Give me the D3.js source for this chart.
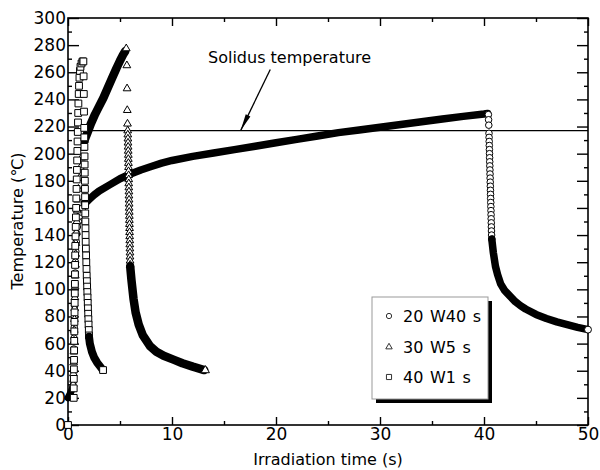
<!DOCTYPE html>
<html>
<head>
<meta charset="utf-8">
<script src="https://cdn.jsdelivr.net/npm/d3@7"></script>
<style>
  body { margin: 0; background: #fff; }
  text { font-family: "DejaVu Sans", sans-serif; fill: #000; }
</style>
</head>
<body>
<div id="chart"></div>
<script>
// global constants
const W = 600;
const H = 470;
const MARGIN = { top: 18, right: 12, bottom: 45, left: 68 };
const WIDTH = W - MARGIN.left - MARGIN.right;
const HEIGHT = H - MARGIN.top - MARGIN.bottom;

// axis ticks
const X_MAJOR = [0, 10, 20, 30, 40, 50];
const X_MINOR = [5, 15, 25, 35, 45];
const Y_MAJOR = [0, 20, 40, 60, 80, 100, 120, 140, 160, 180, 200, 220, 240, 260, 280, 300];
const Y_MINOR = [10, 30, 50, 70, 90, 110, 130, 150, 170, 190, 210, 230, 250, 270, 290];

const SOLIDUS = 217;
const LEGEND = ["20 W40 s", "30 W5 s", "40 W1 s"];

// 20 W 40 s (circles): [time s, temperature C]
const circleStart = [[0, 20], [0.2, 23], [0.42, 27]];
const circleRise = [
  [0.5, 32], [0.52, 40], [0.54, 48], [0.56, 56], [0.58, 64], [0.6, 72], [0.62, 80],
  [0.64, 88], [0.66, 96], [0.68, 104], [0.7, 112], [0.72, 120], [0.75, 128], [0.8, 135],
  [0.85, 141], [0.9, 146], [1.0, 150], [1.1, 154], [1.25, 157], [1.4, 160], [1.6, 163]
];
const circleHeat = [
  [1.6, 163], [2, 166], [2.5, 169.5], [3, 172.5], [4, 177], [5, 181.5], [6, 185], [7, 188],
  [8, 190.5], [9, 193], [10, 195], [12, 198], [14, 200.5], [16, 203], [18, 205.5], [20, 208],
  [22, 210.5], [24, 213], [26, 215.5], [28, 217.5], [30, 219.5], [32, 221.5], [34, 223.5],
  [36, 225.5], [38, 227.5], [40, 229.2], [40.35, 229.6]
];
const circleDrop = [
  [40.42, 228.8], [40.44, 225], [40.46, 221], [40.48, 215], [40.49, 212], [40.5, 209],
  [40.51, 206], [40.52, 203], [40.53, 200], [40.54, 197], [40.55, 194], [40.56, 191],
  [40.57, 188], [40.58, 185], [40.59, 182], [40.6, 179], [40.61, 176], [40.62, 173],
  [40.63, 170], [40.64, 167], [40.65, 164], [40.66, 161], [40.67, 158], [40.68, 155],
  [40.69, 152], [40.7, 149], [40.71, 146], [40.72, 143], [40.73, 140], [40.75, 137]
];
const circleCool = [
  [40.75, 137], [40.9, 127], [41.1, 117], [41.3, 111], [41.6, 104], [42, 99], [42.5, 95],
  [43, 91], [43.5, 88], [44, 85.5], [45, 81.5], [46, 78.5], [47, 76], [48, 74], [49, 72],
  [49.9, 70.5]
];
const circleEnd = [[50, 70.3]];

// 30 W 5 s (triangles)
const triRise = [
  [0.5, 30], [0.52, 38], [0.54, 46], [0.56, 54], [0.58, 62], [0.6, 70], [0.62, 78],
  [0.64, 86], [0.66, 94], [0.68, 102], [0.7, 110], [0.72, 118], [0.74, 126], [0.76, 134],
  [0.8, 142], [0.85, 150], [0.9, 158], [0.95, 166], [1.0, 174], [1.1, 182], [1.2, 190],
  [1.3, 197], [1.45, 204], [1.6, 210]
];
const triHeat = [
  [1.6, 210], [1.9, 216], [2.2, 222], [2.6, 229], [3, 235], [3.4, 241], [3.8, 248],
  [4.2, 255], [4.66, 263], [5, 268.5], [5.3, 273], [5.5, 275.5]
];
const triDrop = [
  [5.6, 277.5], [5.66, 265], [5.68, 248], [5.7, 232], [5.72, 222], [5.74, 217], [5.75, 214],
  [5.76, 211], [5.77, 208], [5.78, 205], [5.79, 202], [5.8, 199], [5.8, 196], [5.81, 193],
  [5.82, 190], [5.82, 187], [5.83, 184], [5.84, 181], [5.84, 178], [5.85, 175], [5.86, 172],
  [5.86, 169], [5.87, 166], [5.88, 163], [5.88, 160], [5.89, 157], [5.9, 154], [5.9, 151],
  [5.91, 148], [5.92, 145], [5.92, 142], [5.93, 139], [5.94, 136], [5.94, 133], [5.95, 130],
  [5.96, 127], [5.96, 124], [5.97, 121], [5.98, 118]
];
const triCool = [
  [5.98, 117], [6.1, 107], [6.3, 93], [6.5, 83], [6.8, 74], [7.2, 66], [7.9, 58], [8.5, 54],
  [9.2, 51], [10.2, 48], [11, 45.5], [12, 43], [13.1, 40.5]
];
const triEnd = [[13.2, 40.3]];

// 40 W 1 s (squares)
const sqRise = [
  [0, 0], [0.55, 20], [0.55, 27], [0.56, 34], [0.57, 41], [0.58, 48], [0.59, 55], [0.6, 62],
  [0.61, 69], [0.62, 76], [0.63, 83], [0.64, 90], [0.65, 97], [0.66, 104], [0.67, 111],
  [0.68, 118], [0.69, 125], [0.7, 132], [0.72, 139], [0.74, 146], [0.76, 153], [0.78, 160],
  [0.8, 167], [0.82, 174], [0.84, 181], [0.86, 188], [0.88, 195], [0.9, 202], [0.92, 209],
  [0.94, 216], [0.96, 223], [0.98, 230], [1.0, 237], [1.03, 244], [1.06, 250], [1.1, 256],
  [1.15, 261], [1.2, 264], [1.3, 266.5], [1.4, 268]
];
const sqDrop = [
  [1.48, 268], [1.5, 257], [1.52, 244], [1.54, 231], [1.56, 219], [1.57, 212], [1.58, 205],
  [1.59, 198], [1.6, 192], [1.61, 186], [1.62, 180], [1.63, 174], [1.64, 168], [1.65, 162],
  [1.66, 156], [1.67, 150], [1.68, 145], [1.69, 140], [1.7, 135], [1.72, 130], [1.74, 125],
  [1.76, 120], [1.78, 115], [1.8, 110], [1.82, 106], [1.84, 102], [1.86, 98], [1.88, 94],
  [1.9, 90], [1.92, 86], [1.94, 82], [1.96, 78], [1.98, 74], [2.0, 70], [2.02, 66]
];
const sqCool = [
  [2.02, 65], [2.1, 60], [2.3, 54], [2.5, 50], [2.8, 46], [3.1, 43], [3.3, 41]
];
const sqEnd = [[3.37, 40.5]];

const svg = d3.select("#chart").append("svg")
  .attr("width", W).attr("height", H);
const g = svg.append("g")
  .attr("transform", `translate(${MARGIN.left},${MARGIN.top})`);

const x = d3.scaleLinear().domain([0, 50]).range([0, WIDTH]);
const y = d3.scaleLinear().domain([0, 300]).range([HEIGHT, 0]);

// frame
g.append("rect")
  .attr("width", WIDTH).attr("height", HEIGHT)
  .attr("fill", "none").attr("stroke", "#000").attr("stroke-width", 1.6);

function styleAxis(sel) {
  sel.select(".domain").remove();
  sel.selectAll(".tick line").attr("stroke", "#000").attr("stroke-width", 1.4);
  sel.selectAll(".tick text").style("font-size", "17px").attr("fill", "#000");
}

// bottom
g.append("g").attr("transform", `translate(0,${HEIGHT})`)
  .call(d3.axisBottom(x).tickValues(X_MAJOR).tickSize(-8).tickPadding(3))
  .call(styleAxis);
g.append("g").attr("transform", `translate(0,${HEIGHT})`)
  .call(d3.axisBottom(x).tickValues(X_MINOR).tickSize(-4).tickFormat(""))
  .call(styleAxis);
// top
g.append("g")
  .call(d3.axisTop(x).tickValues(X_MAJOR).tickSize(-8).tickFormat(""))
  .call(styleAxis);
g.append("g")
  .call(d3.axisTop(x).tickValues(X_MINOR).tickSize(-4).tickFormat(""))
  .call(styleAxis);
// left
g.append("g")
  .call(d3.axisLeft(y).tickValues(Y_MAJOR).tickSize(-11).tickPadding(2))
  .call(styleAxis);
g.append("g")
  .call(d3.axisLeft(y).tickValues(Y_MINOR).tickSize(-4).tickFormat(""))
  .call(styleAxis);
// right
g.append("g").attr("transform", `translate(${WIDTH},0)`)
  .call(d3.axisRight(y).tickValues(Y_MAJOR).tickSize(-11).tickFormat(""))
  .call(styleAxis);
g.append("g").attr("transform", `translate(${WIDTH},0)`)
  .call(d3.axisRight(y).tickValues(Y_MINOR).tickSize(-4).tickFormat(""))
  .call(styleAxis);

// axis titles
svg.append("text")
  .attr("x", MARGIN.left + WIDTH / 2).attr("y", 465)
  .attr("text-anchor", "middle").style("font-size", "16px")
  .text("Irradiation time (s)");
svg.append("text")
  .attr("transform", `translate(23,${MARGIN.top + 203}) rotate(-90)`)
  .attr("text-anchor", "middle").style("font-size", "16px")
  .text("Temperature (℃)");

// solidus line + annotation
g.append("line")
  .attr("x1", 0).attr("x2", WIDTH)
  .attr("y1", y(SOLIDUS)).attr("y2", y(SOLIDUS))
  .attr("stroke", "#000").attr("stroke-width", 1.2);

const tip = [x(16.6), y(SOLIDUS)];
const tail = [x(19.45), y(262)];
g.append("line")
  .attr("x1", tail[0]).attr("y1", tail[1]).attr("x2", tip[0]).attr("y2", tip[1])
  .attr("stroke", "#000").attr("stroke-width", 1.3);
{
  const dx = tip[0] - tail[0], dy = tip[1] - tail[1];
  const len = Math.hypot(dx, dy);
  const ux = dx / len, uy = dy / len;
  const bx = tip[0] - ux * 17, by = tip[1] - uy * 17;
  const px = -uy * 2.6, py = ux * 2.6;
  g.append("path")
    .attr("d", `M${tip[0]},${tip[1]}L${bx + px},${by + py}L${bx - px},${by - py}Z`)
    .attr("fill", "#000");
}
svg.append("text")
  .attr("x", 208).attr("y", 63)
  .style("font-size", "16px")
  .text("Solidus temperature");

// series drawing
const line = d3.line().x((d) => x(d[0])).y((d) => y(d[1]));

function band(pts, w) {
  g.append("path").datum(pts)
    .attr("d", line)
    .attr("fill", "none").attr("stroke", "#000")
    .attr("stroke-width", w)
    .attr("stroke-linecap", "round").attr("stroke-linejoin", "round");
}

function marks(pts, type, size) {
  g.append("g").selectAll("path")
    .data(pts).join("path")
    .attr("transform", (d) => `translate(${x(d[0])},${y(d[1])})`)
    .attr("d", d3.symbol(type, size)())
    .attr("fill", "#fff").attr("stroke", "#000").attr("stroke-width", 1);
}

// circles
band(circleStart, 7);
marks(circleRise, d3.symbolCircle, 34);
band(circleHeat, 7.5);
marks(circleDrop, d3.symbolCircle, 34);
band(circleCool, 7.5);
marks(circleEnd, d3.symbolCircle, 38);

// triangles
marks(triRise, d3.symbolTriangle, 26);
band(triHeat, 8.5);
marks(triDrop, d3.symbolTriangle, 26);
band(triCool, 8.5);
marks(triEnd, d3.symbolTriangle, 30);

// squares
marks(sqRise, d3.symbolSquare, 46);
marks(sqDrop, d3.symbolSquare, 46);
band(sqCool, 8);
marks(sqEnd, d3.symbolSquare, 46);

// legend
const lg = svg.append("g").attr("transform", "translate(372,297)");
lg.append("rect").attr("x", 4).attr("y", 4).attr("width", 116).attr("height", 102)
  .attr("fill", "#000");
lg.append("rect").attr("width", 116).attr("height", 102)
  .attr("fill", "#fff").attr("stroke", "#999").attr("stroke-width", 1);
const legendTypes = [[d3.symbolCircle, 22], [d3.symbolTriangle, 18], [d3.symbolSquare, 26]];
const legendY = [19, 50, 80];
LEGEND.forEach((name, i) => {
  lg.append("path")
    .attr("transform", `translate(17,${legendY[i]})`)
    .attr("d", d3.symbol(legendTypes[i][0], legendTypes[i][1])())
    .attr("fill", "#fff").attr("stroke", "#333").attr("stroke-width", 1);
  lg.append("text")
    .attr("x", 31).attr("y", legendY[i] + 6)
    .style("font-size", "16px").style("word-spacing", "1.5px")
    .text(name);
});
</script>
</body>
</html>
